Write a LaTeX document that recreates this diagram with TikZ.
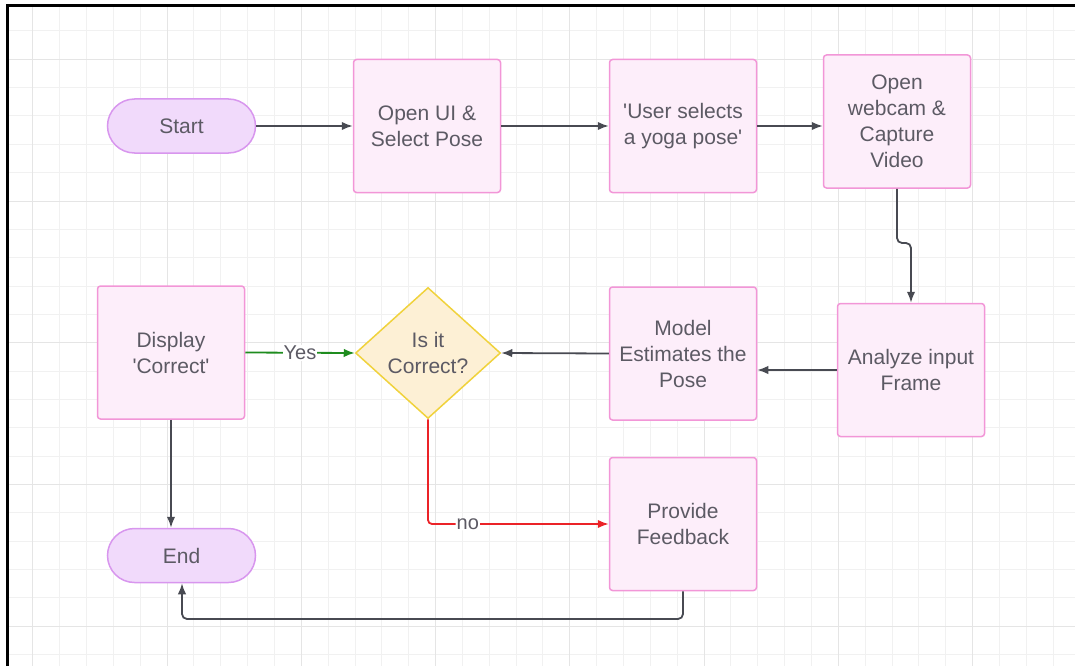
\documentclass[tikz,border=0pt]{standalone}
\usepackage{fontspec}
\setmainfont{Liberation Sans}
\usetikzlibrary{arrows.meta}
\usetikzlibrary{shapes.geometric}
\usetikzlibrary{positioning}

\definecolor{boxfill}{RGB}{253,238,250}
\definecolor{boxline}{RGB}{242,150,215}
\definecolor{termfill}{RGB}{241,218,251}
\definecolor{termline}{RGB}{216,150,238}
\definecolor{decfill}{RGB}{253,240,213}
\definecolor{decline}{RGB}{240,210,60}
\definecolor{txt}{RGB}{92,90,100}
\definecolor{wire}{RGB}{72,74,82}
\definecolor{yesline}{RGB}{30,140,30}
\definecolor{noline}{RGB}{235,35,40}
\definecolor{gridminor}{RGB}{241,241,241}
\definecolor{gridmajor}{RGB}{229,229,229}

\tikzset{
  stepbox/.style={draw=boxline, fill=boxfill, line width=1.5pt, rounded corners=3pt,
    minimum width=147pt, minimum height=133pt, align=center, text=txt,
    font=\fontsize{21}{26}\selectfont},
  term/.style={draw=termline, fill=termfill, line width=1.5pt, rounded corners=27pt,
    minimum width=148pt, minimum height=54pt, text=txt, font=\fontsize{21}{26}\selectfont},
  decision/.style={diamond, draw=decline, fill=decfill, line width=1.5pt, inner sep=0pt,
    minimum width=145pt, minimum height=131pt, align=center, text=txt,
    font=\fontsize{21}{26}\selectfont},
  flow/.style={->, wire, line width=1.8pt},
  lbl/.style={fill=white, inner sep=1pt, text=txt, font=\fontsize{20}{24}\selectfont}
}

\begin{document}
\begin{tikzpicture}[x=1pt,y=-1pt,>={Latex[length=11pt,width=8.5pt]}]
\useasboundingbox (0,0) rectangle (1075,666);
\foreach \i in {-30,...,8} \draw[gridminor,line width=1pt] ({838.3+26.85*\i},7) -- ({838.3+26.85*\i},666);
\foreach \j in {-1,...,21} \draw[gridminor,line width=1pt] (9,{59.3+28.35*\j}) -- (1075,{59.3+28.35*\j});
\foreach \i in {-30,-25,...,5} \draw[gridmajor,line width=1pt] ({838.3+26.85*\i},7) -- ({838.3+26.85*\i},666);
\foreach \j in {0,5,...,20} \draw[gridmajor,line width=1pt] (9,{59.3+28.35*\j}) -- (1075,{59.3+28.35*\j});
\draw[line width=3pt] (7.5,666) -- (7.5,5.5) -- (1075,5.5);

\node[term] (start) at (181.5,126) {Start};
\node[stepbox] (openui) at (427,126) {Open UI \&\\Select Pose};
\node[stepbox] (usersel) at (683,126) {\textquotesingle User selects\\a yoga pose\textquotesingle};
\node[stepbox] (webcam) at (897,121.5) {Open\\webcam \&\\Capture\\Video};
\node[stepbox] (analyze) at (911,370) {Analyze input\\Frame};
\node[stepbox] (model) at (683,353.5) {Model\\Estimates the\\Pose};
\node[decision] (check) at (428,353) {Is it\\Correct?};
\node[stepbox] (display) at (171,352.5) {Display\\\textquotesingle Correct\textquotesingle};
\node[stepbox] (feedback) at (683,524) {Provide\\Feedback};
\node[term] (finish) at (181.5,555.5) {End};

\coordinate (jog) at (897,243);
\coordinate (back) at (182,619);
\draw[flow] (start) -- (openui);
\draw[flow] (openui) -- (usersel);
\draw[flow] (usersel.east) -- (usersel.east -| webcam.west);
\draw[flow,rounded corners=5pt] (webcam.south) -- (jog) -| (analyze.north);
\draw[flow] (analyze.west) -- (analyze.west -| model.east);
\draw[flow] (model.west) -- (check.east);
\draw[flow,yesline] (display.east) -- node[lbl]{Yes} (check.west);
\draw[flow,noline,rounded corners=4pt] (check.south) |- node[lbl,pos=0.61]{no} (feedback.west);
\draw[flow] (display.south) -- (display.south |- finish.north);
\draw[flow,rounded corners=5pt] (feedback.south) |- (back) -- (back |- finish.south);
\end{tikzpicture}
\end{document}
